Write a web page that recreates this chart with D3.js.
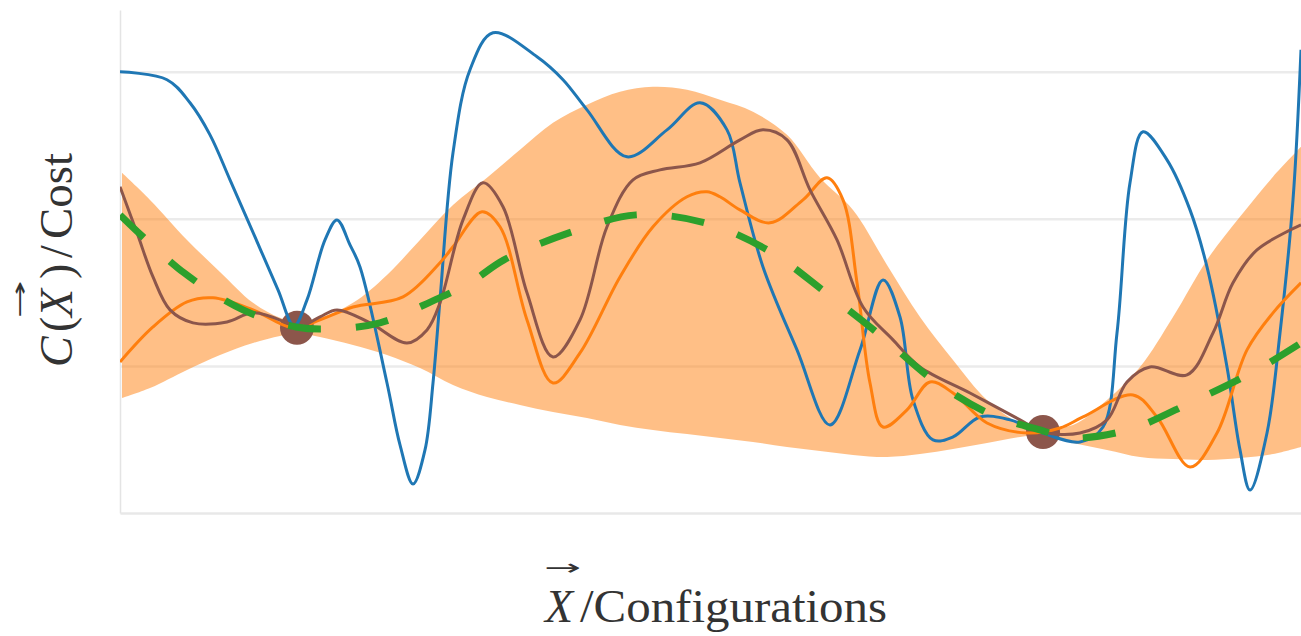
<!DOCTYPE html>
<html>
<head>
<meta charset="utf-8">
<script src="https://cdn.jsdelivr.net/npm/d3@7"></script>
<style>
  html, body { margin: 0; padding: 0; background: #fff; }
  svg { display: block; }
</style>
</head>
<body>
<svg id="chart" width="1301" height="636"></svg>
<script>
// ---- Data (x: configuration axis, y: cost) ----
const obsX = [1.77, 9.23];
const obsY = [1.259, 0.551];

const meanX = [0, 0.64, 1.23, 1.76, 2.10, 2.60, 3.15, 3.50, 3.84, 4.49, 5.16, 5.85, 6.49, 7.05, 7.60, 8.13, 8.72, 9.23, 9.48, 10.08, 10.72, 11.35, 11.81];
const meanY = [2.027, 1.633, 1.381, 1.265, 1.252, 1.293, 1.449, 1.565, 1.721, 1.905, 2.027, 1.973, 1.782, 1.503, 1.211, 0.905, 0.667, 0.558, 0.510, 0.565, 0.755, 0.966, 1.156];

const bandX = [0.02, 0.30, 0.67, 1.00, 1.33, 1.60, 1.77, 2.00, 2.33, 2.67, 3.00, 3.33, 3.67, 4.00, 4.33, 4.67, 5.00, 5.33, 5.67, 6.00, 6.33, 6.67, 7.00, 7.33, 7.67, 8.00, 8.33, 8.67, 9.00, 9.23, 9.53, 9.87, 10.20, 10.53, 10.87, 11.20, 11.53, 11.81];
const bandUpper = [2.313, 2.129, 1.857, 1.639, 1.429, 1.327, 1.299, 1.327, 1.429, 1.619, 1.857, 2.095, 2.279, 2.469, 2.653, 2.776, 2.864, 2.898, 2.878, 2.810, 2.728, 2.571, 2.279, 2.061, 1.687, 1.333, 1.041, 0.769, 0.612, 0.585, 0.599, 0.769, 0.993, 1.333, 1.721, 2.014, 2.286, 2.490];
const bandLower = [0.782, 0.850, 0.973, 1.075, 1.156, 1.204, 1.224, 1.197, 1.143, 1.075, 0.986, 0.871, 0.789, 0.735, 0.687, 0.646, 0.599, 0.565, 0.537, 0.510, 0.483, 0.449, 0.422, 0.395, 0.381, 0.401, 0.435, 0.476, 0.517, 0.531, 0.476, 0.429, 0.381, 0.367, 0.361, 0.374, 0.401, 0.449];

const blueX = [0, 0.47, 0.70, 0.90, 1.10, 1.35, 1.58, 1.74, 1.87, 2.05, 2.17, 2.30, 2.40, 2.67, 2.80, 2.93, 3.05, 3.13, 3.20, 3.33, 3.50, 3.73, 4.17, 4.43, 4.67, 5.07, 5.47, 5.80, 6.07, 6.20, 6.43, 6.77, 7.10, 7.40, 7.63, 7.80, 7.93, 8.13, 8.33, 8.60, 8.90, 9.23, 9.60, 9.83, 9.97, 10.10, 10.23, 10.47, 10.70, 10.87, 11.07, 11.20, 11.30, 11.47, 11.60, 11.73, 11.81];
const blueY = [3.000, 2.946, 2.789, 2.571, 2.265, 1.877, 1.517, 1.272, 1.449, 1.857, 1.993, 1.823, 1.673, 0.884, 0.463, 0.197, 0.429, 0.884, 1.449, 2.449, 3.014, 3.265, 3.102, 2.946, 2.741, 2.422, 2.605, 2.789, 2.605, 2.245, 1.673, 1.109, 0.599, 1.109, 1.585, 1.333, 0.769, 0.497, 0.517, 0.653, 0.633, 0.544, 0.483, 0.585, 1.224, 2.245, 2.592, 2.401, 2.061, 1.673, 0.993, 0.429, 0.156, 0.544, 1.224, 2.129, 3.150];

const orangeX = [0, 0.33, 0.67, 0.93, 1.33, 1.73, 2.00, 2.33, 2.83, 3.20, 3.33, 3.62, 3.80, 4.07, 4.33, 4.60, 5.00, 5.33, 5.67, 5.87, 6.00, 6.20, 6.50, 6.83, 7.07, 7.23, 7.37, 7.50, 7.63, 7.87, 8.10, 8.33, 8.67, 9.07, 9.40, 9.63, 10.13, 10.37, 10.70, 10.97, 11.27, 11.53, 11.81];
const orangeY = [1.027, 1.265, 1.435, 1.463, 1.381, 1.259, 1.313, 1.401, 1.469, 1.701, 1.810, 2.048, 1.946, 1.313, 0.884, 1.088, 1.605, 1.946, 2.150, 2.184, 2.150, 2.061, 1.973, 2.129, 2.279, 2.129, 1.565, 0.884, 0.585, 0.701, 0.891, 0.816, 0.612, 0.544, 0.578, 0.653, 0.803, 0.653, 0.313, 0.544, 1.109, 1.361, 1.565];

const brownX = [0, 0.17, 0.33, 0.50, 0.73, 1.07, 1.33, 1.67, 1.77, 2.00, 2.17, 2.50, 2.87, 3.07, 3.20, 3.43, 3.63, 3.83, 4.07, 4.33, 4.60, 4.87, 5.13, 5.40, 5.80, 6.20, 6.43, 6.67, 6.90, 7.17, 7.43, 7.73, 8.00, 8.50, 9.00, 9.23, 9.60, 9.87, 10.07, 10.30, 10.67, 10.93, 11.13, 11.37, 11.81];
const brownY = [2.218, 1.905, 1.605, 1.381, 1.293, 1.299, 1.361, 1.293, 1.259, 1.333, 1.381, 1.293, 1.156, 1.245, 1.429, 1.993, 2.245, 2.082, 1.497, 1.061, 1.313, 1.946, 2.265, 2.333, 2.381, 2.537, 2.605, 2.537, 2.197, 1.857, 1.401, 1.177, 0.993, 0.816, 0.633, 0.551, 0.544, 0.633, 0.891, 0.993, 0.939, 1.224, 1.565, 1.789, 1.959];

const gridValues = [1, 2, 3];

// ---- Chart ----
const svg = d3.select("#chart");
const mLeft = 120, mRight = 1301, mTop = 10, mBottom = 513;

const x = d3.scaleLinear().domain([0, 11.81]).range([mLeft, mRight]);
const y = d3.scaleLinear().domain([0, 3.42]).range([mBottom, mTop]);

svg.append("defs").append("clipPath").attr("id", "plotclip")
  .append("rect").attr("x", mLeft).attr("y", 0).attr("width", mRight - mLeft).attr("height", mBottom);

// gridlines
const grid = svg.append("g").attr("transform", `translate(${mLeft},0)`)
  .call(d3.axisLeft(y).tickValues(gridValues).tickSize(-(mRight - mLeft)).tickFormat(""));
grid.select(".domain").remove();
grid.selectAll(".tick line").attr("stroke", "#ebebeb").attr("stroke-width", 2.5);

// left spine
const ly = svg.append("g").attr("transform", `translate(${mLeft},0)`)
  .call(d3.axisLeft(y).tickValues([]).tickSizeOuter(0));
ly.select(".domain").attr("stroke", "#e4e4e4").attr("stroke-width", 1.5);

// bottom spine
const bx = svg.append("g").attr("transform", `translate(0,${mBottom})`)
  .call(d3.axisBottom(x).tickValues([]).tickSizeOuter(0));
bx.select(".domain").attr("stroke", "#e8e8e8").attr("stroke-width", 2.5);

const plot = svg.append("g").attr("clip-path", "url(#plotclip)");
const curve = d3.curveCatmullRom.alpha(0.5);

// confidence band
const bandData = d3.zip(bandX, bandUpper, bandLower);
plot.append("path")
  .datum(bandData)
  .attr("d", d3.area().x(d => x(d[0])).y0(d => y(d[2])).y1(d => y(d[1])).curve(curve))
  .attr("fill", "#ff7f0e").attr("fill-opacity", 0.5);

// observations
plot.selectAll("circle.obs").data(d3.zip(obsX, obsY)).join("circle")
  .attr("class", "obs")
  .attr("cx", d => x(d[0])).attr("cy", d => y(d[1])).attr("r", 17)
  .attr("fill", "#8c564b");

const line = d3.line().x(d => x(d[0])).y(d => y(d[1])).curve(curve);
const series = [
  { xs: blueX, ys: blueY, color: "#1f77b4", w: 3 },
  { xs: orangeX, ys: orangeY, color: "#ff7f0e", w: 3 },
  { xs: brownX, ys: brownY, color: "#8c564b", w: 3 }
];
series.forEach(s => {
  plot.append("path").datum(d3.zip(s.xs, s.ys))
    .attr("d", line).attr("fill", "none")
    .attr("stroke", s.color).attr("stroke-width", s.w)
    .attr("stroke-linejoin", "round");
});

// mean (dashed)
plot.append("path").datum(d3.zip(meanX, meanY))
  .attr("d", line).attr("fill", "none")
  .attr("stroke", "#2ca02c").attr("stroke-width", 7)
  .attr("stroke-dasharray", "33,35");

// ---- Axis labels ----
const textColor = "#333";
const serif = "'Liberation Serif', 'DejaVu Serif', serif";

// x label
svg.append("text").attr("x", 545).attr("y", 622)
  .attr("font-family", serif).attr("font-size", 46).attr("font-style", "italic")
  .attr("fill", textColor).text("X");
svg.append("text").attr("x", 580).attr("y", 622)
  .attr("font-family", serif).attr("font-size", 46)
  .attr("textLength", 307).attr("lengthAdjust", "spacingAndGlyphs")
  .attr("fill", textColor).text("/Configurations");
svg.append("text").attr("x", 563).attr("y", 575)
  .attr("text-anchor", "middle")
  .attr("font-family", "'DejaVu Sans', sans-serif").attr("font-size", 22)
  .attr("textLength", 37).attr("lengthAdjust", "spacingAndGlyphs")
  .attr("fill", textColor).text("→");

// y label
const yl = svg.append("g").attr("transform", "translate(72,370) rotate(-90)");
const ylt = yl.append("text").attr("font-family", serif).attr("font-size", 46).attr("fill", textColor);
ylt.append("tspan").attr("x", 3).attr("font-style", "italic").text("C");
ylt.append("tspan").attr("x", 38).text("(");
ylt.append("tspan").attr("x", 53).attr("font-style", "italic").text("X");
ylt.append("tspan").attr("x", 91).text(")");
ylt.append("tspan").attr("x", 112).text("/");
ylt.append("tspan").attr("x", 131).attr("textLength", 86).attr("lengthAdjust", "spacingAndGlyphs").text("Cost");
yl.append("text").attr("x", 71).attr("y", -45)
  .attr("text-anchor", "middle")
  .attr("font-family", "'DejaVu Sans', sans-serif").attr("font-size", 22)
  .attr("textLength", 38).attr("lengthAdjust", "spacingAndGlyphs")
  .attr("fill", textColor).text("→");
</script>
</body>
</html>
